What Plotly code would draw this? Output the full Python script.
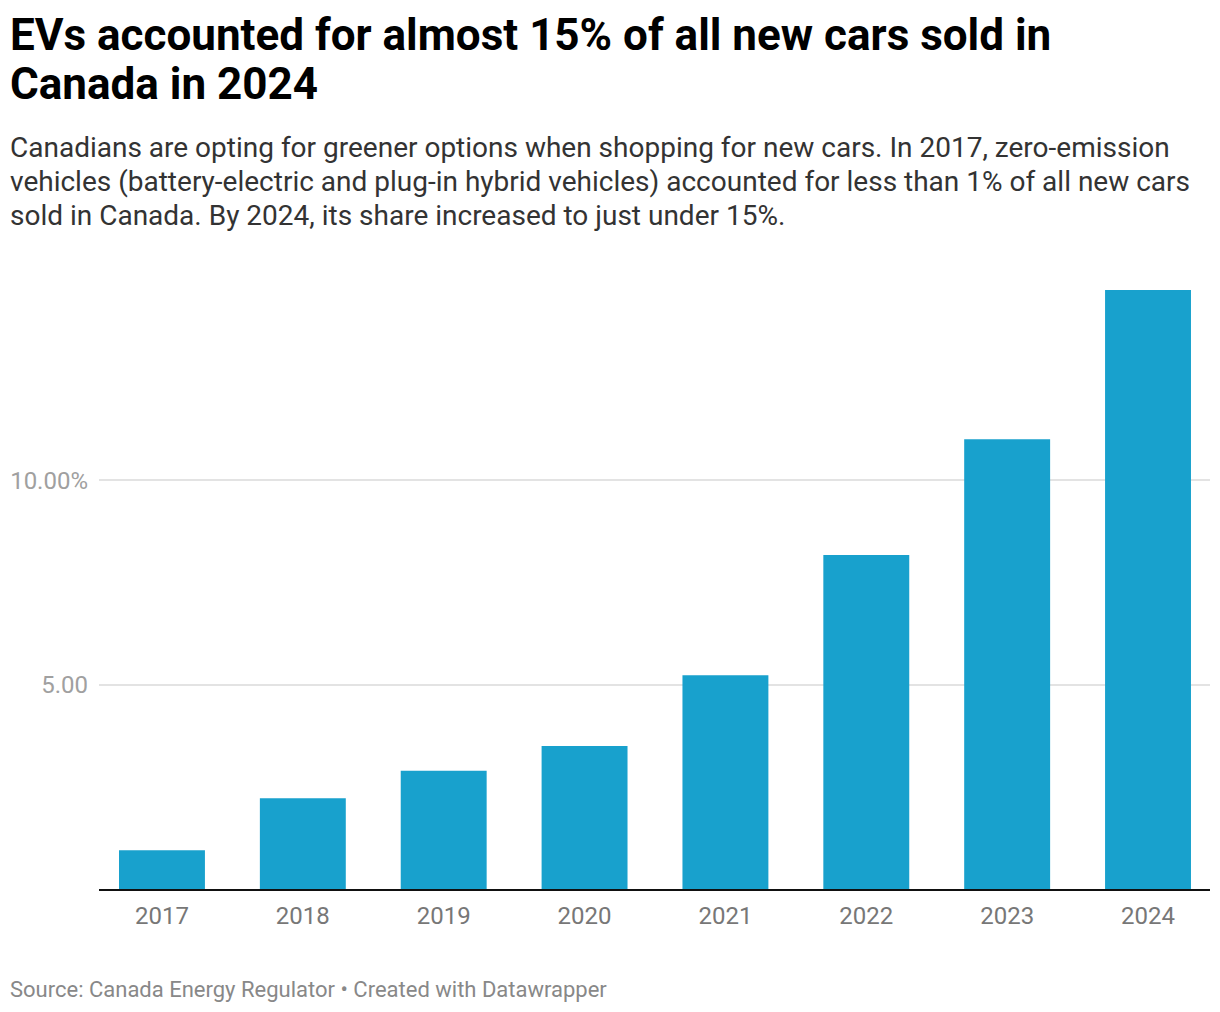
import plotly.graph_objects as go

years = ["2017", "2018", "2019", "2020", "2021", "2022", "2023", "2024"]
ev_share = [0.95, 2.22, 2.89, 3.50, 5.23, 8.17, 11.0, 14.65]
ytick_vals = [5, 10]
ytick_text = ["5.00", "10.00%"]

title_lines = ["EVs accounted for almost 15% of all new cars sold in", "Canada in 2024"]
subtitle_lines = [
    "Canadians are opting for greener options when shopping for new cars. In 2017, zero-emission",
    "vehicles (battery-electric and plug-in hybrid vehicles) accounted for less than 1% of all new cars",
    "sold in Canada. By 2024, its share increased to just under 15%.",
]
source_text = "Source: Canada Energy Regulator • Created with Datawrapper"

W, H = 1204, 996
L, R, T, B = 91, 2, 282, 115
pw = W - L - R
ph = H - T - B

def px_x(x):
    return (x - L) / pw

def px_y(y):
    return (H - B - y) / ph

fig = go.Figure(go.Bar(
    x=years, y=ev_share, marker_color="#18a1cd", marker_line_width=0,
    hoverinfo="skip"
))

fig.update_layout(
    width=W, height=H,
    margin=dict(l=L, r=R, t=T, b=B, pad=0),
    paper_bgcolor="white", plot_bgcolor="white",
    font=dict(family="Roboto", color="#333333"),
    bargap=0.39,
    showlegend=False,
    xaxis=dict(
        type="category", range=[-0.447, 7.44], showgrid=False,
        showline=True, linecolor="#111111", linewidth=2,
        tickfont=dict(size=24, color="#777777"), ticks="",
        ticklabelstandoff=4, fixedrange=True,
    ),
    yaxis=dict(
        range=[0, 14.65], tickvals=ytick_vals, ticktext=ytick_text,
        showgrid=True, gridcolor="#e3e3e3", gridwidth=1.5,
        zeroline=False, showline=False, ticks="",
        tickfont=dict(size=24, color="#a0a0a0"),
        ticklabelstandoff=10, fixedrange=True,
    ),
)

for i, line in enumerate(title_lines):
    fig.add_annotation(
        text="<b>" + line + "</b>",
        xref="paper", yref="paper", x=px_x(0), y=px_y(27.5 + 48.5 * i),
        xanchor="left", yanchor="middle", align="left", showarrow=False,
        font=dict(size=44, color="#000000", family="Roboto"),
    )
for i, line in enumerate(subtitle_lines):
    fig.add_annotation(
        text=line,
        xref="paper", yref="paper", x=px_x(0), y=px_y(139.5 + 34 * i),
        xanchor="left", yanchor="middle", align="left", showarrow=False,
        font=dict(size=28, color="#333333", family="Roboto"),
    )
fig.add_annotation(
    text=source_text,
    xref="paper", yref="paper", x=px_x(0), y=px_y(981),
    xanchor="left", yanchor="middle", align="left", showarrow=False,
    font=dict(size=22, color="#888888", family="Roboto"),
)

fig.write_html("out.html")
